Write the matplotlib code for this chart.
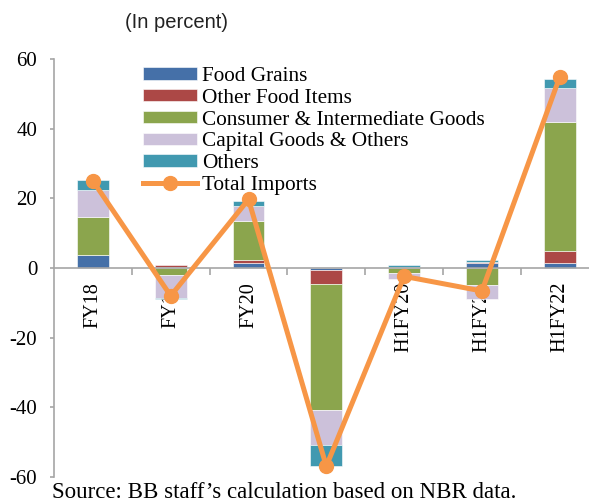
import numpy as np
import matplotlib.pyplot as plt
from matplotlib.ticker import FixedLocator

plt.rcParams['font.family'] = ['Liberation Serif', 'DejaVu Serif']
plt.rcParams['axes.unicode_minus'] = False

periods = ['FY18', 'FY19', 'FY20', 'FY21', 'H1FY20', 'H1FY21', 'H1FY22']
food_grains = [3.6, 0.2, 1.5, -0.7, 0.3, 1.3, 1.5]
other_food = [0.0, 0.7, 0.7, -3.8, 0.1, 0.4, 3.3]
consumer_int = [11.0, -2.0, 11.3, -36.2, -1.3, -5.0, 37.2]
capital_goods = [7.7, -6.5, 4.3, -10.0, -1.9, -3.8, 9.7]
others = [2.9, -0.5, 1.4, -6.2, 0.5, 0.5, 2.7]
total_imports = [25.0, -8.0, 19.7, -56.9, -2.4, -6.6, 54.8]

series = [('Food Grains', food_grains, '#4570A8'),
          ('Other Food Items', other_food, '#AC4846'),
          ('Consumer & Intermediate Goods', consumer_int, '#8BA54D'),
          ('Capital Goods & Others', capital_goods, '#CCC1DA'),
          ('Others', others, '#4199B0')]

fig = plt.figure(figsize=(5.89, 5.04), dpi=100)
ax = fig.add_axes([54/589, 27/504, 544.6/589, 418/504])

x = np.arange(len(periods))
pos_base = np.zeros(len(periods))
neg_base = np.zeros(len(periods))
handles = []
for name, vals, col in series:
    vals = np.array(vals)
    base = np.where(vals >= 0, pos_base, neg_base)
    b = ax.bar(x, vals, 0.41, bottom=base, color=col, label=name,
               edgecolor='white', linewidth=0.4, zorder=2)
    handles.append(b)
    pos_base += np.where(vals >= 0, vals, 0)
    neg_base += np.where(vals < 0, vals, 0)

line, = ax.plot(x, total_imports, '-o', color='#F79646', lw=3.6, markersize=10,
                label='Total Imports', zorder=3)
handles.append(line)

ax.set_xlim(-0.5, len(periods) - 0.5)
ax.set_ylim(-60, 60)
ax.set_yticks([-60, -40, -20, 0, 20, 40, 60])

# x axis sits on the zero line, ticks between categories
ax.spines['bottom'].set_position(('data', 0))
ax.spines['top'].set_visible(False)
ax.spines['right'].set_visible(False)
for s in ['bottom', 'left']:
    ax.spines[s].set_color('#A6A6A6')
    ax.spines[s].set_linewidth(1.2)
ax.xaxis.set_major_locator(FixedLocator(x[:-1] + 0.5))
ax.xaxis.set_major_formatter(plt.NullFormatter())
ax.xaxis.set_minor_locator(FixedLocator(x))
ax.set_xticklabels(periods, minor=True, rotation=90, fontsize=14.5)
ax.tick_params(axis='x', which='major', direction='out', length=5,
               color='#A6A6A6', width=1.2)
ax.tick_params(axis='x', which='minor', length=0, pad=10)
ax.tick_params(axis='y', direction='out', length=3, color='#A6A6A6',
               width=1.2, pad=9, labelsize=15)

ax.legend(handles=handles, loc='upper left', bbox_to_anchor=(143/589, 1 - 67/504),
          bbox_transform=fig.transFigure, frameon=False, fontsize=15.3,
          handlelength=2.55, handleheight=0.5, handletextpad=0.25,
          labelspacing=0.13, borderpad=0, borderaxespad=0)

fig.text(125/589, 1 - 22/504, '(In percent)', family='Liberation Sans',
         fontsize=14.5, va='center', color='#222222')
fig.text(52/589, 1 - 492/504, 'Source: BB staff\u2019s calculation based on NBR data.',
         fontsize=16.5, va='center')

fig.savefig('out.png', dpi=100)
